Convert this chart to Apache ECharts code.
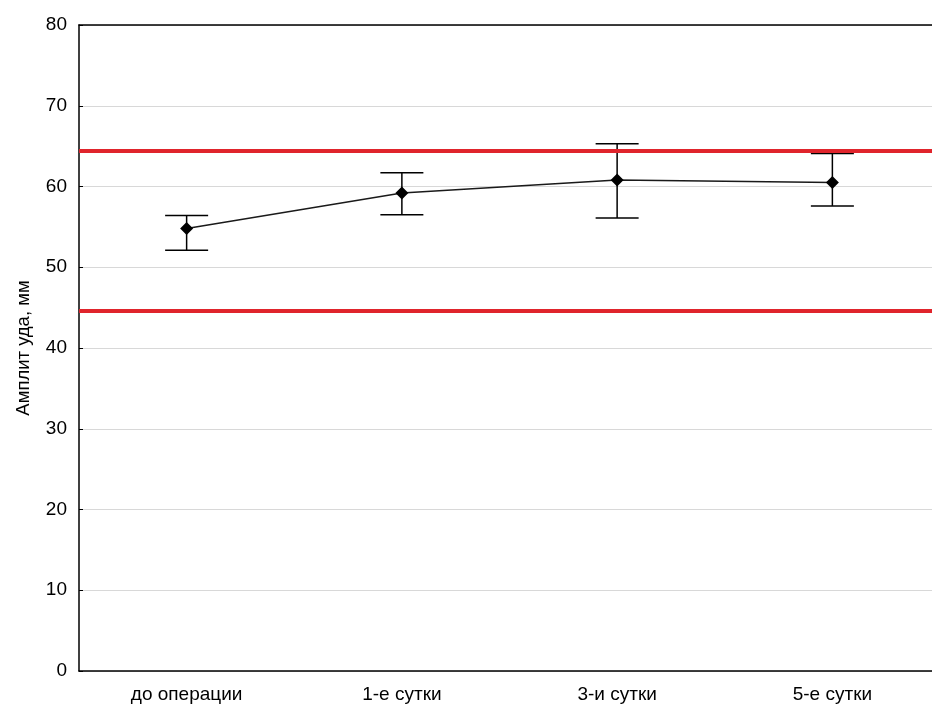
<!DOCTYPE html>
<html>
<head>
<meta charset="utf-8">
<script src="https://cdn.jsdelivr.net/npm/echarts@6/dist/echarts.min.js"></script>
<style>html,body{margin:0;padding:0;background:#fff;}#c{width:932px;height:706px;}</style>
</head>
<body>
<div id="c"></div>
<script>
var categories = ['до операции', '1-е сутки', '3-и сутки', '5-е сутки'];
var means = [54.8, 59.2, 60.8, 60.5];
var upper = [56.4, 61.7, 65.3, 64.1];
var lower = [52.1, 56.5, 56.1, 57.6];
var refLines = [64.4, 44.6];
var yTicks = [0, 10, 20, 30, 40, 50, 60, 70, 80];
var yTitle = 'Амплит уда, мм';

var errData = categories.map(function (c, i) { return [i, lower[i], upper[i]]; });
var font = 'Liberation Sans, Arial, sans-serif';

var chart = echarts.init(document.getElementById('c'), null, {renderer: 'canvas'});
chart.setOption({
  animation: false,
  backgroundColor: '#fff',
  grid: {left: 79, top: 25, width: 861, bottom: 35, containLabel: false, outerBoundsMode: 'none'},
  xAxis: [{
    type: 'category', data: categories, position: 'bottom',
    axisLine: {lineStyle: {color: '#000', width: 1.5}},
    axisTick: {inside: true, alignWithLabel: true, length: 4, lineStyle: {color: '#000'}},
    axisLabel: {color: '#000', fontFamily: font, fontSize: 19, margin: 14},
    splitLine: {show: false}
  }, {
    type: 'category', data: categories, position: 'top',
    axisLine: {lineStyle: {color: '#000', width: 1.5}},
    axisTick: {inside: true, alignWithLabel: true, length: 4, lineStyle: {color: '#000'}},
    axisLabel: {show: false}
  }],
  yAxis: {
    type: 'value', min: yTicks[0], max: yTicks[yTicks.length - 1], interval: 10,
    axisLine: {show: true, lineStyle: {color: '#000', width: 1.5}},
    axisTick: {show: true, inside: true, length: 4, lineStyle: {color: '#000'}},
    axisLabel: {color: '#000', fontFamily: font, fontSize: 19, margin: 12},
    splitLine: {show: true, lineStyle: {color: '#d8d8d8', width: 1}},
    name: yTitle, nameLocation: 'middle', nameGap: 46,
    nameTextStyle: {color: '#000', fontFamily: font, fontSize: 18.5}
  },
  series: [{
    type: 'line', data: means, xAxisIndex: 0,
    symbol: 'diamond', symbolSize: 13,
    itemStyle: {color: '#000'},
    lineStyle: {color: '#1a1a1a', width: 1.5},
    z: 5,
    markLine: {
      silent: true, symbol: 'none', label: {show: false},
      lineStyle: {color: '#e0242c', width: 4, type: 'solid'},
      data: refLines.map(function (v) { return {yAxis: v}; })
    }
  }, {
    type: 'custom', data: errData, xAxisIndex: 0, z: 4,
    renderItem: function (params, api) {
      var x = api.value(0);
      var lo = api.coord([x, api.value(1)]);
      var hi = api.coord([x, api.value(2)]);
      var hw = 21.5;
      var st = {stroke: '#000', lineWidth: 1.5};
      return {type: 'group', children: [
        {type: 'line', shape: {x1: hi[0], y1: hi[1], x2: lo[0], y2: lo[1]}, style: st},
        {type: 'line', shape: {x1: hi[0] - hw, y1: hi[1], x2: hi[0] + hw, y2: hi[1]}, style: st},
        {type: 'line', shape: {x1: lo[0] - hw, y1: lo[1], x2: lo[0] + hw, y2: lo[1]}, style: st}
      ]};
    }
  }]
});
</script>
</body>
</html>
